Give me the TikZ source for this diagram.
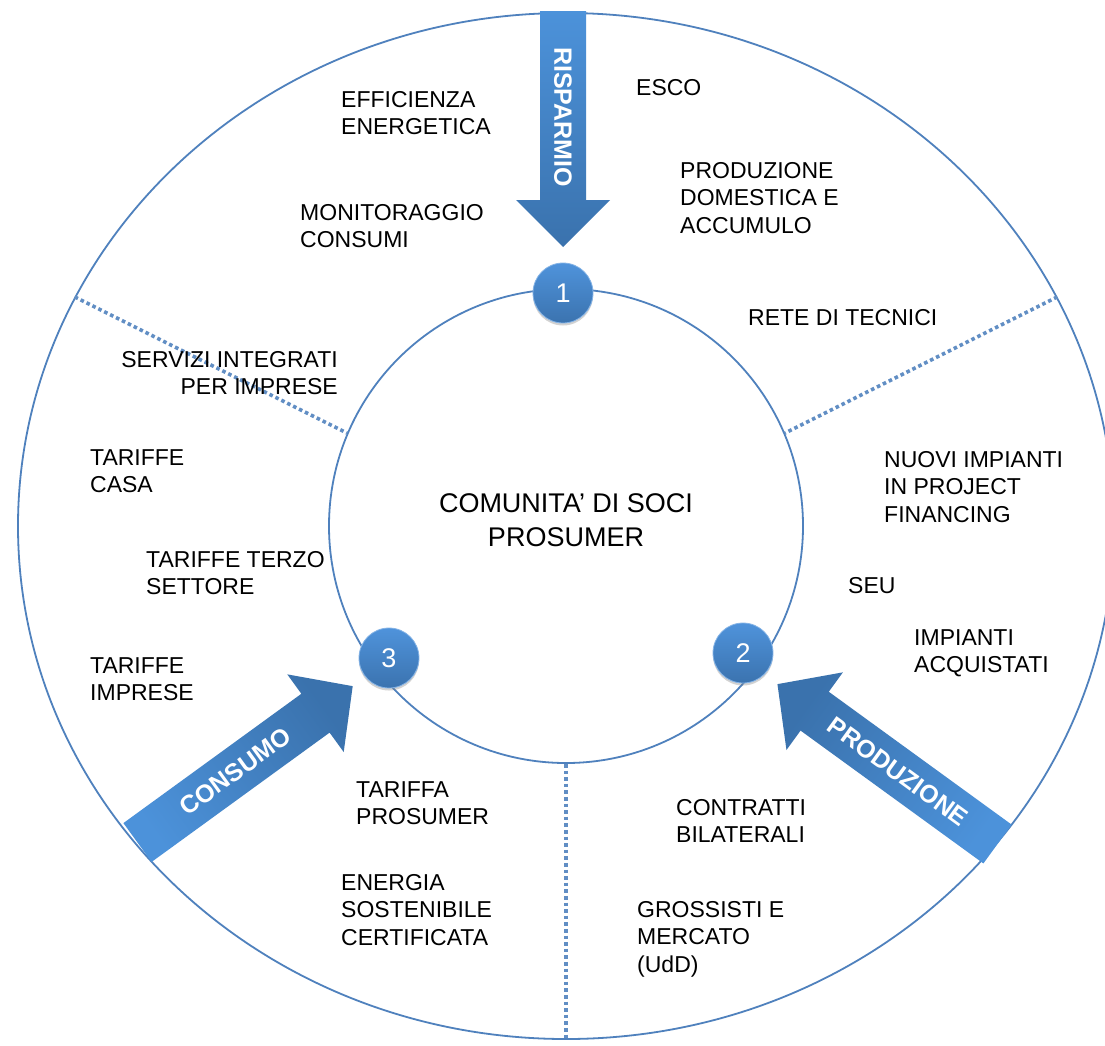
\documentclass[tikz,border=0pt]{standalone}
\usepackage{fontspec}
\setmainfont{Liberation Sans}
\usetikzlibrary{shapes.geometric,shadows}
\definecolor{ringblue}{HTML}{4F81BD}
\definecolor{arrowlight}{HTML}{4C92DA}
\definecolor{arrowdark}{HTML}{3A72AD}
\definecolor{dotlight}{HTML}{4F93DB}
\definecolor{dotdark}{HTML}{3B73AF}
\begin{document}
\begin{tikzpicture}[x=1pt,y=-1pt,
  ring/.style={draw=ringblue, line width=1.8pt, inner sep=0pt},
  divider/.style={draw=ringblue!90!white, line width=3.6pt, dash pattern=on 3.6pt off 3pt},
  lbl/.style={font=\fontsize{23}{27.5}\selectfont, align=left, inner sep=0pt, anchor=base west},
  lblr/.style={lbl, align=right, anchor=base east},
  arrowlbl/.style={font=\fontsize{25}{25}\selectfont\bfseries, text=white, inner sep=0pt},
  numdot/.style={circle, minimum size=60pt, inner sep=0pt, draw=dotlight!70!white, line width=0.8pt, top color=dotlight, bottom color=dotdark, text=white, font=\fontsize{27}{27}\selectfont, drop shadow={shadow xshift=0pt, shadow yshift=-2.5pt, opacity=0.35}},
  coretext/.style={font=\fontsize{27}{34}\selectfont, align=center, inner sep=0pt, anchor=base},
]
\useasboundingbox (0,0) rectangle (1105,1045);
\clip (0,0) rectangle (1105,1045);
\fill[white] (0,0) rectangle (1105,1045);

% rings
\node[ring, ellipse, minimum width=1096pt, minimum height=1026pt] (outer) at (566,526) {};
\node[ring, circle, minimum size=474pt] (inner) at (566,526) {};

% dividers
\draw[divider] (outer.155) -- (inner.157);
\draw[divider] (outer.25) -- (inner.23);
\draw[divider] (inner.south) -- (outer.south);

% arrows
\begin{scope}[shift={(563,11)}, rotate=-90]
  \shade[top color=arrowlight, bottom color=arrowdark] (0,-23) -- (189,-23) -- (189,-47) -- (236,0) -- (189,47) -- (189,23) -- (0,23) -- cycle;
  \node[arrowlbl, rotate=-90] (risp) at (106,0) {RISPARMIO};
\end{scope}
\begin{scope}[shift={(137.5,842.5)}, rotate=36]
  \shade[top color=arrowdark, bottom color=arrowlight, shading angle=-54] (0,-24) -- (220,-24) -- (220,-48) -- (266,0) -- (220,48) -- (220,24) -- (0,24) -- cycle;
  \node[arrowlbl, rotate=36] (cons) at (121,0) {CONSUMO};
\end{scope}
\begin{scope}[shift={(997.5,844)}, rotate=144]
  \shade[top color=arrowdark, bottom color=arrowlight, shading angle=54] (0,-24) -- (226,-24) -- (226,-48) -- (272,0) -- (226,48) -- (226,24) -- (0,24) -- cycle;
  \node[arrowlbl, rotate=-36] (prodlbl) at (123,0) {PRODUZIONE};
\end{scope}

% numbered dots
\node[numdot] (n1) at (563,293) {1};
\node[numdot] (n2) at (743,653) {2};
\node[numdot] (n3) at (389,658) {3};

% centre text
\node[coretext, text=black] (core) at (566,546) {COMUNITA’ DI SOCI\\PROSUMER};

% labels (anchored at the baseline of the last line)
\node[lbl] (effic) at (341,134.5) {EFFICIENZA\\ENERGETICA};
\node[lbl] (monit) at (300,247.5) {MONITORAGGIO\\CONSUMI};
\node[lbl] (esco) at (636,95) {ESCO};
\node[lbl] (proddom) at (680,233) {PRODUZIONE\\DOMESTICA E\\ACCUMULO};
\node[lbl] (rete) at (748,325) {RETE DI TECNICI};
\node[lblr] (servizi) at (338,394.5) {SERVIZI INTEGRATI\\PER IMPRESE};
\node[lbl] (casa) at (90,492.5) {TARIFFE\\CASA};
\node[lbl] (terzo) at (146,594.5) {TARIFFE TERZO\\SETTORE};
\node[lbl] (imprese) at (90,700.5) {TARIFFE\\IMPRESE};
\node[lbl] (nuovi) at (884,522) {NUOVI IMPIANTI\\IN PROJECT\\FINANCING};
\node[lbl] (seu) at (848,593) {SEU};
\node[lbl] (acquist) at (914,672.5) {IMPIANTI\\ACQUISTATI};
\node[lbl] (contr) at (676,842.5) {CONTRATTI\\BILATERALI};
\node[lbl] (gross) at (637,972) {GROSSISTI E\\MERCATO\\(UdD)};
\node[lbl] (tarpros) at (356,824.5) {TARIFFA\\PROSUMER};
\node[lbl] (energia) at (341,945) {ENERGIA\\SOSTENIBILE\\CERTIFICATA};
\end{tikzpicture}
\end{document}
